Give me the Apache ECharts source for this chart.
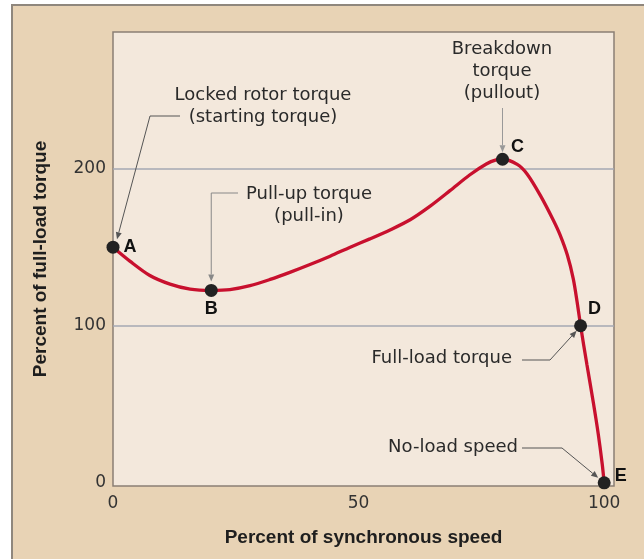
<!DOCTYPE html>
<html>
<head>
<meta charset="utf-8">
<title>Torque vs speed</title>
<script src="https://cdn.jsdelivr.net/npm/echarts@6/dist/echarts.min.js"></script>
<style>
html, body { margin: 0; padding: 0; background: #fff; }
#frame { position: absolute; left: 11px; top: 4px; width: 640px; height: 560px; background: #e8d3b5; border-left: 2px solid #8f877d; border-top: 2px solid #8f877d; }
#chart { position: absolute; left: 0; top: 0; width: 644px; height: 559px; }
</style>
</head>
<body>
<div id="frame"></div>
<div id="chart"></div>
<script>
// Torque curve: % of synchronous speed -> % of full-load torque
const speed = [0, 3.5, 7.5, 11.6, 15.7, 20, 23.8, 27.9, 32, 36, 40.1, 44.2, 48.3, 52.3, 56.4, 60.5, 64.5, 68.6, 72.6, 76, 78, 79.3, 82.3, 84.3, 87, 89.6, 91, 92.5, 93.7, 94.5, 95.2, 96.5, 97.8, 98.8, 99.6, 100];
const torque = [150, 141, 132, 126.5, 123.3, 122.5, 123, 125.5, 129.5, 134, 139, 144.3, 150, 155.3, 161, 167.5, 176, 186, 196, 203, 205.6, 206, 202.7, 196.6, 183, 167.5, 158, 145, 130, 115, 100, 75, 51, 31, 12, 0];

// Marked points A..E
const keyNames = ['A', 'B', 'C', 'D', 'E'];
const keySpeed = [0, 20, 79.3, 95.2, 100];
const keyTorque = [150, 122.5, 206, 100, 0];

const xTicks = [0, 50, 100];
const yTicks = [0, 100, 200];
const gridLines = [100, 200];

const COLORS = { curve: '#c8102e', dot: '#222', text: '#2a2a2a', grid: '#a4a9b3', border: '#8a7f74', plot: '#f3e8dc' };
const labelFont = { fontFamily: 'DejaVu Sans', fontSize: 17, color: '#333' };
const titleFont = { fontFamily: 'Liberation Sans', fontWeight: 'bold', fontSize: 19, color: '#1e1e1e' };

// where each letter sits relative to its dot
const letterPlace = {
    A: { position: 'right', distance: 4, offset: [0, 0] },
    B: { position: 'bottom', distance: 3, offset: [0, 0] },
    C: { position: 'right', distance: 2, offset: [0, -12] },
    D: { position: 'right', distance: 1, offset: [0, -17] },
    E: { position: 'right', distance: 4, offset: [0, -7] }
};

const option = {
    animation: false,
    backgroundColor: 'transparent',
    grid: { left: 113, right: 30, top: 32, bottom: 73, show: true, backgroundColor: COLORS.plot, borderColor: COLORS.border, borderWidth: 1.5 },
    xAxis: {
        type: 'value', min: 0, max: 102, interval: 50,
        name: 'Percent of synchronous speed', nameLocation: 'middle', nameGap: 42, nameTextStyle: titleFont,
        axisLine: { show: false }, axisTick: { show: false }, splitLine: { show: false },
        axisLabel: { ...labelFont, margin: 9, formatter: v => xTicks.includes(v) ? String(v) : '' }
    },
    yAxis: {
        type: 'value', min: -2, max: 287,
        name: 'Percent of full-load torque', nameLocation: 'middle', nameGap: 63, nameRotate: 90, nameTextStyle: titleFont,
        axisLine: { show: false }, axisTick: { show: false }, splitLine: { show: false },
        axisLabel: { ...labelFont, margin: 7, formatter: v => yTicks.includes(v) ? String(v) : '' }
    },
    series: [
        {
            // grid lines at 100 % and 200 %
            type: 'line', data: [], z: 1, silent: true,
            markLine: {
                z: 1, silent: true, symbol: ['none', 'none'], label: { show: false },
                lineStyle: { color: COLORS.grid, width: 1.5, type: 'solid' },
                data: gridLines.map(v => ({ yAxis: v }))
            }
        },
        {
            type: 'line', z: 3, showSymbol: false, smooth: 0.3,
            data: speed.map((s, i) => [s, torque[i]]),
            lineStyle: { color: COLORS.curve, width: 3.3 }
        },
        {
            type: 'scatter', z: 4, symbolSize: 13,
            itemStyle: { color: COLORS.dot, opacity: 1 },
            data: keyNames.map((n, i) => ({
                name: n, value: [keySpeed[i], keyTorque[i]],
                label: { show: true, formatter: n, fontFamily: 'Liberation Sans', fontWeight: 'bold', fontSize: 18, color: '#111', ...letterPlace[n] }
            }))
        }
    ]
};

const chart = echarts.init(document.getElementById('chart'));
chart.setOption(option);

const px = (i, dx, dy) => {
    const p = chart.convertToPixel({ gridIndex: 0 }, [keySpeed[i], keyTorque[i]]);
    return [p[0] + dx, p[1] + dy];
};

// polyline with a filled arrowhead at its last point
const leader = (points, color) => {
    const [x1, y1] = points[points.length - 2];
    const [x2, y2] = points[points.length - 1];
    const a = Math.atan2(y2 - y1, x2 - x1);
    const len = 7, half = 3;
    const bx = x2 - len * Math.cos(a), by = y2 - len * Math.sin(a);
    return [
        { type: 'polyline', z: 5, shape: { points: [...points.slice(0, -1), [bx, by]] }, style: { stroke: color, lineWidth: 1, fill: null } },
        { type: 'polygon', z: 5, shape: { points: [[x2, y2], [bx + half * Math.sin(a), by - half * Math.cos(a)], [bx - half * Math.sin(a), by + half * Math.cos(a)]] }, style: { fill: color } }
    ];
};

const note = (text, x, y, align) => ({
    type: 'text', z: 5, x, y,
    style: { text, fontFamily: 'DejaVu Sans', fontSize: 18, lineHeight: 22, fill: COLORS.text, align, verticalAlign: 'middle' }
});

const tipA = px(0, 4, -8), tipB = px(1, 0, -9), tipC = px(2, 0, -7), tipD = px(3, -4, 5), tipE = px(4, -6, -5);

chart.setOption({
    graphic: [
        note('Locked rotor torque\n(starting torque)', 263, 106, 'center'),
        note('Pull-up torque\n(pull-in)', 309, 205, 'center'),
        note('Breakdown\ntorque\n(pullout)', 502, 71, 'center'),
        note('Full-load torque', 512, 358, 'right'),
        note('No-load speed', 518, 447, 'right'),
        ...leader([[180, 116], [150, 116], tipA], '#555'),
        ...leader([[238, 193], [tipB[0], 193], tipB], '#888'),
        ...leader([[tipC[0], 108], tipC], '#999'),
        ...leader([[522, 360], [550, 360], tipD], '#555'),
        ...leader([[522, 448], [562, 448], tipE], '#555')
    ]
});
</script>
</body>
</html>
